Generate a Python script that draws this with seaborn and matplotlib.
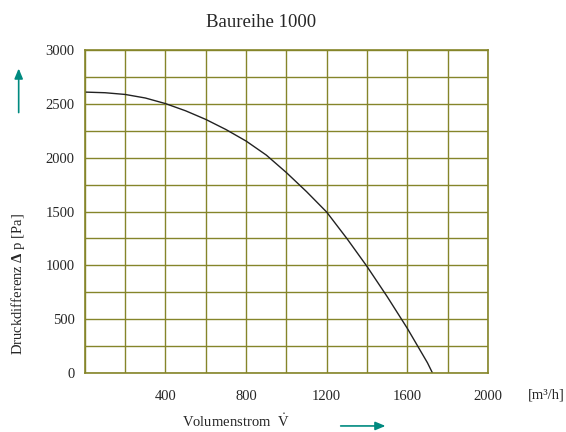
import matplotlib
matplotlib.use('Agg')
import matplotlib.pyplot as plt
import seaborn as sns
import pandas as pd

# Kennlinie
volumenstrom = [0, 100, 200, 300, 400, 500, 600, 700, 800, 900, 1000,
                1100, 1200, 1300, 1400, 1500, 1600, 1700, 1725]
druck = [2610, 2604, 2588, 2555, 2503, 2436, 2356, 2262, 2155, 2025, 1862,
         1685, 1495, 1250, 990, 710, 415, 95, 0]

x_ticks = [400, 800, 1200, 1600, 2000]
y_ticks = [0, 500, 1000, 1500, 2000, 2500, 3000]

df = pd.DataFrame({'Q': volumenstrom, 'p': druck})

sns.set_style('white')
plt.rcParams['font.family'] = ['Liberation Serif', 'DejaVu Serif']
plt.rcParams['mathtext.fontset'] = 'custom'
plt.rcParams['mathtext.rm'] = 'Liberation Serif'
plt.rcParams['mathtext.it'] = 'Liberation Serif:italic'
plt.rcParams['mathtext.bf'] = 'Liberation Serif:bold'

gridfarbe = '#85852a'
pfeilfarbe = '#008a80'

fig = plt.figure(figsize=(5.66, 4.32), dpi=100)
ax = fig.add_axes([0.150, 0.1366, 0.712, 0.7474])

sns.lineplot(data=df, x='Q', y='p', ax=ax, color='#222222', linewidth=1.0)

ax.set_xlim(0, 2000)
ax.set_ylim(0, 3000)
ax.set_xticks(range(0, 2001, 200))
ax.set_yticks(range(0, 3001, 250))
ax.set_xticklabels([str(v) if v in x_ticks else '' for v in range(0, 2001, 200)])
ax.set_yticklabels([str(v) if v in y_ticks else '' for v in range(0, 3001, 250)])
ax.tick_params(length=0, labelsize=10.5)
ax.tick_params(axis='x', pad=12.5)
ax.tick_params(axis='y', pad=7.5)
ax.grid(True, color=gridfarbe, linewidth=1.0)
for s in ax.spines.values():
    s.set_color(gridfarbe)
    s.set_linewidth(1.2)
ax.set_xlabel('')
ax.set_ylabel('')

fig.text(0.461, 0.948, 'Baureihe 1000', ha='center', va='center', fontsize=13.5)
fig.text(0.032, 0.343, r'Druckdifferenz $\mathbf{\Delta}$ p [Pa]', rotation=90,
         ha='center', va='center', fontsize=10.5)
fig.text(0.997, 0.086, '[m³/h]', ha='right', va='center', fontsize=10.5)
fig.text(0.322, 0.025, r'Volumenstrom  $\dot{\mathrm{V}}$', ha='left', va='center', fontsize=10.5)

# Pfeile
fig.add_artist(matplotlib.patches.FancyArrowPatch(
    (0.033, 0.733), (0.033, 0.848), transform=fig.transFigure,
    arrowstyle='-|>,head_length=6,head_width=2.5', color=pfeilfarbe, linewidth=1.2))
fig.add_artist(matplotlib.patches.FancyArrowPatch(
    (0.597, 0.014), (0.686, 0.014), transform=fig.transFigure,
    arrowstyle='-|>,head_length=6,head_width=2.5', color=pfeilfarbe, linewidth=1.2))

plt.savefig('out.png', dpi=100)
